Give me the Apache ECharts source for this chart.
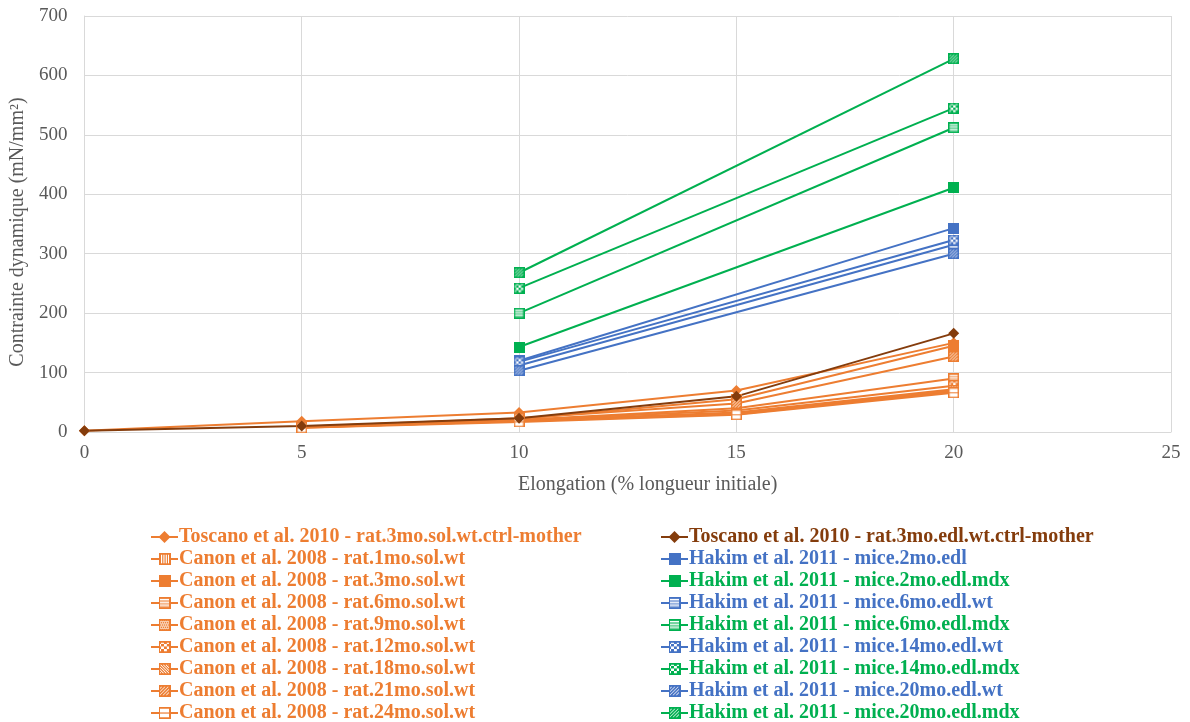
<!DOCTYPE html>
<html>
<head>
<meta charset="utf-8">
<script src="https://cdn.jsdelivr.net/npm/echarts@6/dist/echarts.min.js"></script>
<style>html,body{margin:0;padding:0;background:#fff}#c{width:1190px;height:722px}</style>
</head>
<body>
<div id="c"></div>
<script>
// ---- data ----
const xTicks = [0, 5, 10, 15, 20, 25];
const toscanoX = [0, 5, 10, 15, 20];
const toscanoSol = [2, 18, 33, 70, 150];
const toscanoEdl = [2, 10, 23, 60, 166];
const canonX = [5, 10, 15, 20];
const canon1mo  = [8, 18, 30, 68];
const canon3mo  = [9, 22, 55, 145];
const canon6mo  = [8, 20, 40, 90];
const canon9mo  = [7, 19, 33, 72];
const canon12mo = [8, 20, 36, 78];
const canon18mo = [8, 18, 31, 70];
const canon21mo = [9, 23, 48, 127];
const canon24mo = [7, 17, 29, 66];
const hakimX = [10, 20];
const hakim2wt   = [120, 343];
const hakim2mdx  = [143, 411];
const hakim6wt   = [112, 315];
const hakim6mdx  = [200, 512];
const hakim14wt  = [118, 323];
const hakim14mdx = [242, 545];
const hakim20wt  = [103, 300];
const hakim20mdx = [268, 628];

const ORANGE = '#ED7D31', BROWN = '#843C0C', BLUE = '#4472C4', GREEN = '#00B050';

function patternSymbol(color, kind) {
  const S = 22, cv = document.createElement('canvas');
  cv.width = S; cv.height = S;
  const g = cv.getContext('2d');
  g.fillStyle = '#fff'; g.fillRect(0, 0, S, S);
  g.fillStyle = color; g.strokeStyle = color;
  if (kind === 'solid') g.fillRect(0, 0, S, S);
  else if (kind === 'vert') { for (let x = 3; x < S; x += 4) g.fillRect(x, 0, 2, S); }
  else if (kind === 'horiz') { g.globalAlpha = 0.55; g.fillRect(0,0,S,S); g.globalAlpha = 1; g.fillStyle = '#fff'; for (let y = 4; y < S; y += 5) g.fillRect(0, y, S, 1.5); }
  else if (kind === 'dots') { for (let y = 2; y < S; y += 4) for (let x = (y % 8 === 2 ? 2 : 4); x < S; x += 4) g.fillRect(x, y, 2, 2); g.globalAlpha=0.4; g.fillRect(0,0,S,S); g.globalAlpha=1; }
  else if (kind === 'checker') { const c = 5; for (let y = 0; y < S; y += c) for (let x = 0; x < S; x += c) if (((x + y) / c) % 2 === 0) g.fillRect(x, y, c, c); }
  else if (kind === 'diagdown') { g.lineWidth = 2; for (let k = -S; k < 2 * S; k += 5) { g.beginPath(); g.moveTo(k, 0); g.lineTo(k + S, S); g.stroke(); } }
  else if (kind === 'diagup') { g.lineWidth = 2.5; for (let k = -S; k < 2 * S; k += 6) { g.beginPath(); g.moveTo(k, S); g.lineTo(k + S, 0); g.stroke(); } g.globalAlpha=0.3; g.fillRect(0,0,S,S); g.globalAlpha=1; }
  else if (kind === 'empty') { g.fillRect(0, S / 2 - 1, S, 2); }
  g.lineWidth = 3; g.strokeStyle = color; g.strokeRect(1.5, 1.5, S - 3, S - 3);
  return 'image://' + cv.toDataURL();
}

function mk(name, xs, ys, color, symbol, size) {
  return {
    name: name, type: 'line',
    data: xs.map((x, i) => [x, ys[i]]),
    symbol: symbol, symbolSize: size || 11,
    lineStyle: { color: color, width: 2 },
    itemStyle: { color: color },
    emphasis: { disabled: true },
    animation: false
  };
}

const S1 = [
  mk('Toscano et al. 2010 - rat.3mo.sol.wt.ctrl-mother', toscanoX, toscanoSol, ORANGE, 'diamond', 11),
  mk('Canon et al. 2008 - rat.1mo.sol.wt', canonX, canon1mo, ORANGE, patternSymbol(ORANGE, 'vert')),
  mk('Canon et al. 2008 - rat.3mo.sol.wt', canonX, canon3mo, ORANGE, patternSymbol(ORANGE, 'solid')),
  mk('Canon et al. 2008 - rat.6mo.sol.wt', canonX, canon6mo, ORANGE, patternSymbol(ORANGE, 'horiz')),
  mk('Canon et al. 2008 - rat.9mo.sol.wt', canonX, canon9mo, ORANGE, patternSymbol(ORANGE, 'dots')),
  mk('Canon et al. 2008 - rat.12mo.sol.wt', canonX, canon12mo, ORANGE, patternSymbol(ORANGE, 'checker')),
  mk('Canon et al. 2008 - rat.18mo.sol.wt', canonX, canon18mo, ORANGE, patternSymbol(ORANGE, 'diagdown')),
  mk('Canon et al. 2008 - rat.21mo.sol.wt', canonX, canon21mo, ORANGE, patternSymbol(ORANGE, 'diagup')),
  mk('Canon et al. 2008 - rat.24mo.sol.wt', canonX, canon24mo, ORANGE, patternSymbol(ORANGE, 'empty'))
];
const S2 = [
  mk('Toscano et al. 2010 - rat.3mo.edl.wt.ctrl-mother', toscanoX, toscanoEdl, BROWN, 'diamond', 11),
  mk('Hakim et al. 2011 - mice.2mo.edl', hakimX, hakim2wt, BLUE, patternSymbol(BLUE, 'solid')),
  mk('Hakim et al. 2011 - mice.2mo.edl.mdx', hakimX, hakim2mdx, GREEN, patternSymbol(GREEN, 'solid')),
  mk('Hakim et al. 2011 - mice.6mo.edl.wt', hakimX, hakim6wt, BLUE, patternSymbol(BLUE, 'horiz')),
  mk('Hakim et al. 2011 - mice.6mo.edl.mdx', hakimX, hakim6mdx, GREEN, patternSymbol(GREEN, 'horiz')),
  mk('Hakim et al. 2011 - mice.14mo.edl.wt', hakimX, hakim14wt, BLUE, patternSymbol(BLUE, 'checker')),
  mk('Hakim et al. 2011 - mice.14mo.edl.mdx', hakimX, hakim14mdx, GREEN, patternSymbol(GREEN, 'checker')),
  mk('Hakim et al. 2011 - mice.20mo.edl.wt', hakimX, hakim20wt, BLUE, patternSymbol(BLUE, 'diagup')),
  mk('Hakim et al. 2011 - mice.20mo.edl.mdx', hakimX, hakim20mdx, GREEN, patternSymbol(GREEN, 'diagup'))
];

function legend(series, left) {
  return {
    orient: 'vertical', left: left, top: 527, height: 200, padding: 0,
    itemWidth: 27, itemHeight: 15, itemGap: 2,
    selectedMode: false,
    textStyle: { fontFamily: 'Liberation Serif', fontWeight: 'bold', fontSize: 20, lineHeight: 20, padding: [0, 0, 0, -4] },
    data: series.map(s => ({ name: s.name, textStyle: { color: s.lineStyle.color } }))
  };
}

const axisLabel = { color: '#595959', fontSize: 19, fontFamily: 'Liberation Serif' };
const chart = echarts.init(document.getElementById('c'));
chart.setOption({
  backgroundColor: '#fff',
  animation: false,
  grid: { left: 82, right: 19, top: 16, bottom: 290, containLabel: false },
  xAxis: {
    type: 'value', min: 0, max: 25, interval: 5,
    name: 'Elongation (% longueur initiale)', nameLocation: 'middle', nameGap: 43,
    nameTextStyle: { color: '#595959', fontSize: 20, fontFamily: 'Liberation Serif', padding: [0, 0, 0, 40] },
    axisLine: { show: true, lineStyle: { color: '#d9d9d9' } },
    axisTick: { show: false },
    splitLine: { show: true, lineStyle: { color: '#d9d9d9' } },
    axisLabel: Object.assign({ margin: 12 }, axisLabel)
  },
  yAxis: {
    type: 'value', min: 0, max: 700, interval: 100,
    name: 'Contrainte dynamique (mN/mm²)', nameLocation: 'middle', nameGap: 53,
    nameTextStyle: { color: '#595959', fontSize: 20, fontFamily: 'Liberation Serif', padding: [0, 16, 0, 0] },
    axisLine: { show: true, lineStyle: { color: '#d9d9d9' } },
    axisTick: { show: false },
    splitLine: { show: true, lineStyle: { color: '#d9d9d9' } },
    axisLabel: Object.assign({ margin: 17 }, axisLabel)
  },
  legend: [legend(S1, 150), legend(S2, 660)],
  series: S1.concat(S2)
});
</script>
</body>
</html>
